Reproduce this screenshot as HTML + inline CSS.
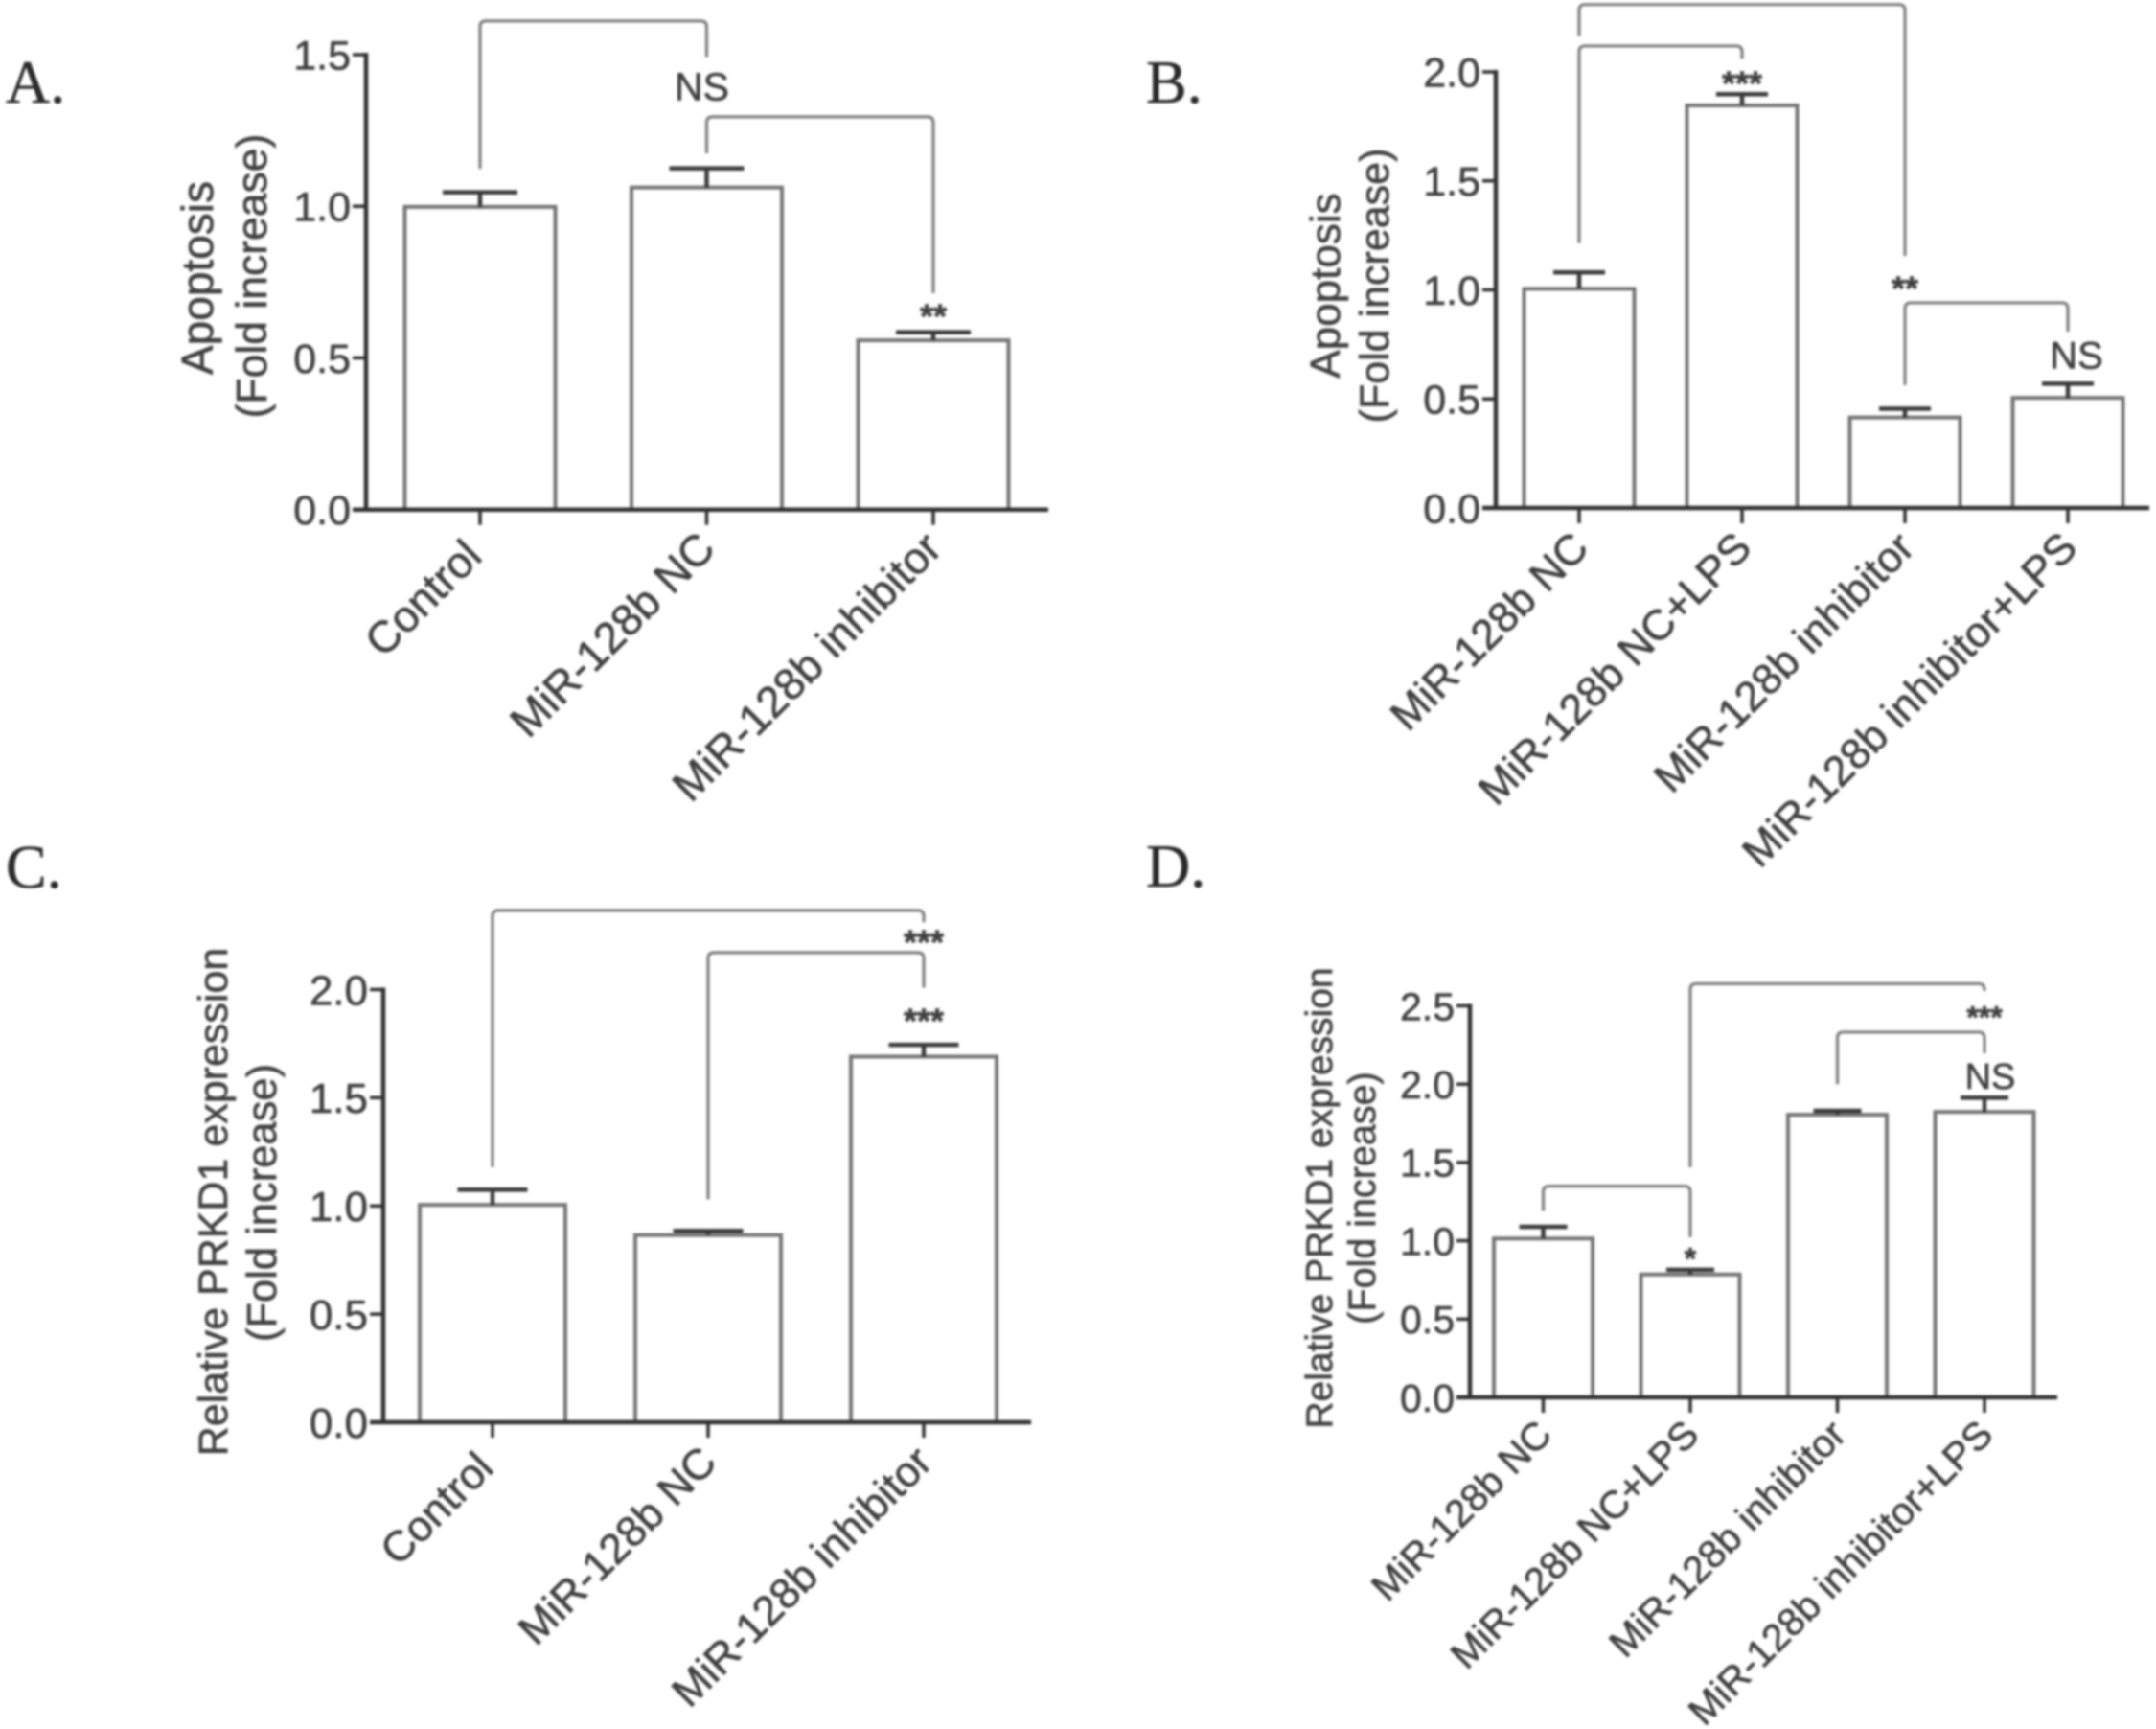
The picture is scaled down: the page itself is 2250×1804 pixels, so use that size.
<!DOCTYPE html>
<html lang="en">
<head>
<meta charset="utf-8">
<title>Apoptosis and PRKD1 expression panels</title>
<style>
html,body{margin:0;padding:0;background:#fff;width:2250px;height:1804px;overflow:hidden}
svg{display:block;filter:blur(1.25px)}
text{font-family:"Liberation Sans",sans-serif;fill:#404040;stroke:#404040;stroke-width:0.6px}
.letter{font-family:"Liberation Serif",serif;fill:#2a2a2a;stroke:#2a2a2a;stroke-width:0.5px}
</style>
</head>
<body>
<svg id="figure" xmlns="http://www.w3.org/2000/svg" width="2250" height="1804" viewBox="0 0 2250 1804">
  <rect x="0" y="0" width="2250" height="1804" fill="#ffffff"/>
  <text class="letter" x="6" y="107" font-size="64">A.</text>
  <text class="letter" x="1196" y="107" font-size="64">B.</text>
  <text class="letter" x="6" y="926" font-size="64">C.</text>
  <text class="letter" x="1196" y="925" font-size="64">D.</text>
</svg>
<script>
// ---- data ----
const categoriesA = ["Control", "MiR-128b NC", "MiR-128b inhibitor"];
const valuesA = [0.998, 1.062, 0.558];
const errorsA = [0.048, 0.063, 0.027];
const ticksA = [0, 0.5, 1.0, 1.5];
const titleA = ["Apoptosis", "(Fold increase)"];
// bracket: from category, to category, level, left end, right end (axis units)
const bracketsA = [[0, 1, 1.611, 1.124, 1.492], [1, 2, 1.295, 1.174, 0.713]];
// significance: text, category, axis level
const marksA = [["NS", 1, 1.397], ["**", 2, 0.653]];

const categoriesB = ["MiR-128b NC", "MiR-128b NC+LPS", "MiR-128b inhibitor", "MiR-128b inhibitor+LPS"];
const valuesB = [1.005, 1.846, 0.415, 0.505];
const errorsB = [0.075, 0.052, 0.04, 0.065];
const ticksB = [0, 0.5, 1.0, 1.5, 2.0];
const titleB = ["Apoptosis", "(Fold increase)"];
const bracketsB = [[0, 2, 2.309, 2.163, 1.156], [0, 1, 2.119, 1.215, 2.059], [2, 3, 0.941, 0.563, 0.809]];
const marksB = [["***", 1, 1.969], ["**", 2, 1.029], ["NS", 3, 0.703]];

const categoriesC = ["Control", "MiR-128b NC", "MiR-128b inhibitor"];
const valuesC = [1.005, 0.865, 1.69];
const errorsC = [0.07, 0.02, 0.055];
const ticksC = [0, 0.5, 1.0, 1.5, 2.0];
const titleC = ["Relative PRKD1 expression", "(Fold increase)"];
const bracketsC = [[0, 2, 2.366, 1.179, 2.311], [1, 2, 2.171, 1.03, 2.009]];
const marksC = [["***", 2, 2.243], ["***", 2, 1.879]];

const categoriesD = ["MiR-128b NC", "MiR-128b NC+LPS", "MiR-128b inhibitor", "MiR-128b inhibitor+LPS"];
const valuesD = [1.014, 0.785, 1.805, 1.823];
const errorsD = [0.075, 0.03, 0.025, 0.09];
const ticksD = [0, 0.5, 1.0, 1.5, 2.0, 2.5];
const titleD = ["Relative PRKD1 expression", "(Fold increase)"];
const bracketsD = [[0, 1, 1.349, 1.19, 1.022], [1, 3, 2.641, 1.469, 2.595], [2, 3, 2.332, 2.0, 2.197]];
const marksD = [["***", 3, 2.454], ["NS", 3, 2.053], ["*", 1, 0.912]];

// ---- drawing ----
const SVGNS = "http://www.w3.org/2000/svg";
const root = document.getElementById("figure");

function line(parent, x1, y1, x2, y2, color, width, name) {
  const el = document.createElementNS(SVGNS, "line");
  el.setAttribute("x1", x1);
  el.setAttribute("y1", y1);
  el.setAttribute("x2", x2);
  el.setAttribute("y2", y2);
  el.setAttribute("stroke", color);
  el.setAttribute("stroke-width", width);
  
  
  parent.appendChild(el);
  return el;
}

function label(parent, str, x, y, size, anchor, name, transform) {
  const el = document.createElementNS(SVGNS, "text");
  el.textContent = str;
  el.setAttribute("font-size", size);
  el.setAttribute("text-anchor", anchor);
  if (transform) {
    el.setAttribute("transform", transform);
  } else {
    el.setAttribute("x", x);
    el.setAttribute("y", y);
  }
  
  
  parent.appendChild(el);
  return el;
}

function drawPanel(id, data, box) {
  const g = document.createElementNS(SVGNS, "g");
  
  
  root.appendChild(g);

  const top = data.ticks[data.ticks.length - 1];
  const yScale = v => box.y0 - (v / top) * (box.y0 - box.yTop);
  const xScale = i => box.first + i * box.step;
  const axisColor = "#303030", barColor = "#757575", bracketColor = "#808080";

  // bars and error bars
  data.values.forEach((v, i) => {
    const cx = xScale(i), yv = yScale(v);
    const bar = document.createElementNS(SVGNS, "rect");
    bar.setAttribute("x", cx - box.barW / 2);
    bar.setAttribute("y", yv);
    bar.setAttribute("width", box.barW);
    bar.setAttribute("height", box.y0 - yv);
    bar.setAttribute("fill", "#ffffff");
    bar.setAttribute("stroke", barColor);
    bar.setAttribute("stroke-width", 4);
    
    
    g.appendChild(bar);
    const yErr = yScale(v + data.errors[i]);
    line(g, cx, yv, cx, yErr, "#3a3a3a", 4.5, 'error-stem-' + id + '-' + i);
    line(g, cx - box.cap / 2, yErr, cx + box.cap / 2, yErr, "#3a3a3a", 4.5, 'error-cap-' + id + '-' + i);
  });

  // axes
  line(g, box.x0, box.y0 + 2, box.x0, box.yTop - 2, axisColor, 4.5, 'y-axis-' + id);
  line(g, box.x0 - 14, box.y0, box.xEnd, box.y0, axisColor, 4.5, 'x-axis-' + id);

  // y ticks
  data.ticks.forEach(t => {
    const y = yScale(t);
    if (t !== 0) line(g, box.x0 - 14, y, box.x0, y, axisColor, 3.5, 'y-tick-' + id);
    label(g, t.toFixed(1), box.x0 - 16, y + box.tickFs * 0.36, box.tickFs, "end", 'y-tick-label-' + id);
  });

  // x ticks and rotated labels
  data.categories.forEach((c, i) => {
    const cx = xScale(i);
    line(g, cx, box.y0, cx, box.y0 + 16, axisColor, 3.5, 'x-tick-' + id + '-' + i);
    const nudge = (box.labelNudge && box.labelNudge[i]) || [0, 0];
    const ax = cx + box.labelDx + nudge[0], ay = box.y0 + box.labelDy + nudge[1];
    label(g, c, 0, 0, box.labelFs, "end", 'x-tick-label-' + id + '-' + i,
      "translate(" + ax + " " + ay + ") rotate(-45)");
  });

  // y-axis titles
  data.title.forEach((t, i) => {
    label(g, t, 0, 0, box.titleFs[i], "middle", 'y-axis-title-' + id + '-' + i,
      "translate(" + box.titleX[i] + " " + box.titleY[i] + ") rotate(-90)");
  });

  // comparison brackets
  data.brackets.forEach((b, i) => {
    const xl = xScale(b[0]), xr = xScale(b[1]);
    const yb = yScale(b[2]), yl = yScale(b[3]), yr = yScale(b[4]);
    const r = 6;
    const p = document.createElementNS(SVGNS, "path");
    p.setAttribute("d", "M" + xl + " " + yl + " V" + (yb + r) + " Q" + xl + " " + yb + " " + (xl + r) + " " + yb +
      " H" + (xr - r) + " Q" + xr + " " + yb + " " + xr + " " + (yb + r) + " V" + yr);
    p.setAttribute("fill", "none");
    p.setAttribute("stroke", bracketColor);
    p.setAttribute("stroke-width", 3.2);
    
    
    g.appendChild(p);
  });

  // significance marks
  data.marks.forEach((m, i) => {
    const isNS = m[0] === "NS";
    const fs = isNS ? box.nsFs : box.starFs;
    const base = yScale(m[2]) + fs * (isNS ? 0.36 : 0.49);
    const dx = isNS ? box.nsDx : 0;
    const el = label(g, m[0], xScale(m[1]) + dx, base, fs, "middle", 'significance-label-' + id + '-' + i);
    if (!isNS) el.setAttribute("font-weight", "bold");
  });
}

drawPanel("a",
  { categories: categoriesA, values: valuesA, errors: errorsA, ticks: ticksA, title: titleA, brackets: bracketsA, marks: marksA },
  { x0: 382, y0: 531.7, yTop: 57, xEnd: 1094, first: 501, step: 236.5, barW: 157, cap: 78, tickFs: 43,
    labelFs: 46, labelDx: 11, labelDy: 43, labelNudge: [[-7, 8], [0, 0], [0, 0]], titleFs: [46, 44.5], titleX: [222, 278], titleY: [290, 288], starFs: 36, nsFs: 41, nsDx: -5 });

drawPanel("b",
  { categories: categoriesB, values: valuesB, errors: errorsB, ticks: ticksB, title: titleB, brackets: bracketsB, marks: marksB },
  { x0: 1561, y0: 530, yTop: 75, xEnd: 2243, first: 1648, step: 170, barW: 115, cap: 54, tickFs: 43,
    labelFs: 44.5, labelDx: 12, labelDy: 44, titleFs: [44, 43], titleX: [1398, 1449], titleY: [298, 298], starFs: 36, nsFs: 40, nsDx: 9 });

drawPanel("c",
  { categories: categoriesC, values: valuesC, errors: errorsC, ticks: ticksC, title: titleC, brackets: bracketsC, marks: marksC },
  { x0: 400, y0: 1484, yTop: 1032.5, xEnd: 1076, first: 514, step: 225, barW: 152, cap: 73, tickFs: 44,
    labelFs: 44.5, labelDx: 11, labelDy: 44, labelNudge: [[-8, 6], [0, 0], [0, 0]], titleFs: [43, 43.5], titleX: [237, 288], titleY: [1254, 1255], starFs: 36, nsFs: 40, nsDx: 0 });

drawPanel("d",
  { categories: categoriesD, values: valuesD, errors: errorsD, ticks: ticksD, title: titleD, brackets: bracketsD, marks: marksD },
  { x0: 1534, y0: 1458, yTop: 1049.5, xEnd: 2147, first: 1610.5, step: 153.5, barW: 103, cap: 50, tickFs: 41,
    labelFs: 40.5, labelDx: 11, labelDy: 41, titleFs: [39, 39.5], titleX: [1390, 1435], titleY: [1250, 1250], starFs: 32, nsFs: 38, nsDx: 6 });
</script>
</body>
</html>
